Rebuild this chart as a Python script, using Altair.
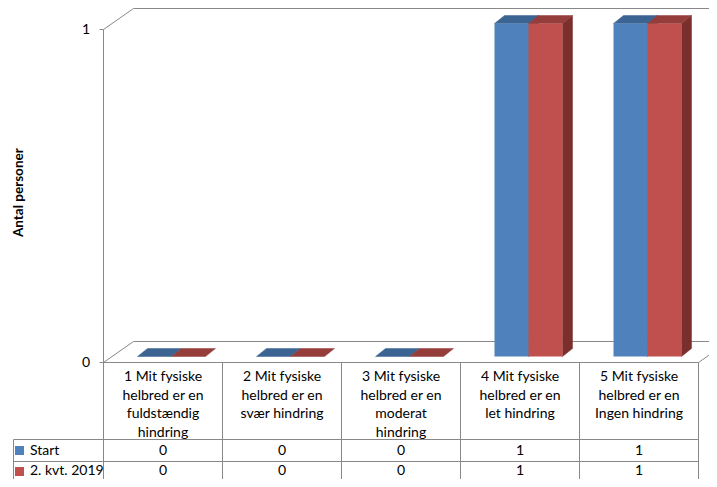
import altair as alt
import pandas as pd

# ---------------- data ----------------
category_lines = [
    ["1 Mit fysiske", "helbred er en", "fuldstændig", "hindring"],
    ["2 Mit fysiske", "helbred er en", "svær hindring"],
    ["3 Mit fysiske", "helbred er en", "moderat", "hindring"],
    ["4 Mit fysiske", "helbred er en", "let hindring"],
    ["5 Mit fysiske", "helbred er en", "Ingen hindring"],
]
series = ["Start", "2. kvt. 2019"]
values_start = [0, 0, 0, 1, 1]
values_kvt = [0, 0, 0, 1, 1]
y_ticks = [0, 1]
y_title = "Antal personer"

front_colors = ["#4F81BD", "#C0504D"]
top_colors = ["#3C6493", "#943D3A"]
side_colors = ["#2F4F75", "#7A2F2D"]
line_color = "#888888"
FONT = "Lato"

# ---------------- layout (reference pixels) ----------------
W, H = 701, 471
XM, YM = 8, 14           # reference pixel shown at the chart's top-left corner
X0, XS = 103.5, 119.0    # x pixel of category boundary 0, pixels per category
Y0, YS = 368.5, 333.0    # y pixel of value 0, pixels per unit


def ux(px):
    return (px - X0) / XS


def vy(py):
    return (Y0 - py) / YS


xs = alt.Scale(domain=[ux(XM), ux(XM + W)], zero=False, nice=False)
ys = alt.Scale(domain=[vy(YM + H), vy(YM)], zero=False, nice=False)

n = len(category_lines)
bar_w = 34 / XS
front_dx, front_dv = 8.5 / XS, 6 / YS
depth_dx, depth_dv = 10 / XS, 8 / YS

fronts, tops, sides = [], [], []
for k in range(n):
    c = k + 0.5
    for s, vals in enumerate([values_start, values_kvt]):
        v = vals[k]
        xl = c - bar_w + s * bar_w + front_dx
        xr = xl + bar_w
        yb = front_dv
        yt = v + front_dv
        bid = f"{k}-{s}"
        fronts.append(dict(x=xl, x2=xr, y=yb, y2=yt, col=front_colors[s]))
        tops.append(dict(bid=bid, y=yt, x=xl, x2=xr, col=top_colors[s]))
        tops.append(dict(bid=bid, y=yt + depth_dv, x=xl + depth_dx, x2=xr + depth_dx, col=top_colors[s]))
        if v > 0:
            sides.append(dict(bid=bid, x=xr, y=yb, y2=yt, col=side_colors[s]))
            sides.append(dict(bid=bid, x=xr + depth_dx, y=yb + depth_dv, y2=yt + depth_dv, col=side_colors[s]))

front_df = pd.DataFrame(fronts)
top_df = pd.DataFrame(tops)
side_df = pd.DataFrame(sides)

# frame lines (3D box), axis ticks and table lines
segs = []
bx, by = 30, 21  # depth of the box
ytop = max(y_ticks)
segs.append((0, ytop, ux(X0 + bx), ytop + by / YS))
segs.append((ux(X0 + bx), ytop + by / YS, ux(740), ytop + by / YS))
segs.append((0, ytop, 0, 0))
segs.append((0, 0, ux(X0 + bx), by / YS))
segs.append((ux(X0 + bx), by / YS, ux(740), by / YS))
segs.append((n, 0, ux(X0 + n * XS + bx), by / YS))
for t in y_ticks:
    segs.append((ux(X0 - 4), t, 0, t))
# table
segs.append((0, 0, n, 0))
for i in range(n + 1):
    segs.append((i, 0, i, vy(500)))
segs.append((ux(13.5), vy(445.5), ux(13.5), vy(500)))
segs.append((ux(13.5), vy(445.5), n, vy(445.5)))
segs.append((ux(13.5), vy(467.5), n, vy(467.5)))
line_df = pd.DataFrame(segs, columns=["x", "y", "x2", "y2"])

# texts
hdr = []
for k, lines in enumerate(category_lines):
    for j, t in enumerate(lines):
        hdr.append(dict(x=k + 0.5, y=vy(383 + 18.5 * j), t=t))
hdr_df = pd.DataFrame(hdr)

row_y = [vy(456.5), vy(476.5)]
vals_rows = []
for s, vals in enumerate([values_start, values_kvt]):
    for k, v in enumerate(vals):
        vals_rows.append(dict(x=k + 0.5, y=row_y[s], t=str(v)))
vals_df = pd.DataFrame(vals_rows)

leg_df = pd.DataFrame(dict(x=[ux(30)] * 2, y=row_y, t=series))
sq_df = pd.DataFrame(dict(
    x=[ux(15)] * 2, x2=[ux(24)] * 2,
    y=[vy(452), vy(473)], y2=[vy(461), vy(482)],
    col=front_colors,
))
tick_df = pd.DataFrame(dict(x=[ux(90)] * len(y_ticks), y=y_ticks, t=[str(t) for t in y_ticks]))
title_df = pd.DataFrame(dict(x=[ux(19)], y=[sum(y_ticks) / 2 + 0.01], t=[y_title]))


def X(f):
    return alt.X(f, type="quantitative", scale=xs, axis=None)


def Y(f):
    return alt.Y(f, type="quantitative", scale=ys, axis=None)


lines_layer = alt.Chart(line_df).mark_rule(color=line_color, strokeWidth=1).encode(
    x=X("x"), y=Y("y"), x2="x2", y2="y2"
)

side_layer = alt.Chart(side_df).mark_area(strokeWidth=0.5).encode(
    x=X("x"), y=Y("y"), y2="y2", detail="bid:N",
    fill=alt.Fill("col:N", scale=None), stroke=alt.Stroke("col:N", scale=None),
)

top_layer = alt.Chart(top_df).mark_area(orient="horizontal", strokeWidth=0.5).encode(
    y=Y("y"), x=X("x"), x2="x2", detail="bid:N",
    fill=alt.Fill("col:N", scale=None), stroke=alt.Stroke("col:N", scale=None),
)

front_layer = alt.Chart(front_df).mark_rect().encode(
    x=X("x"), x2="x2", y=Y("y"), y2="y2",
    fill=alt.Fill("col:N", scale=None),
)

txt = dict(font=FONT, fontSize=14, color="#000000", baseline="middle")
hdr_layer = alt.Chart(hdr_df).mark_text(**txt).encode(x=X("x"), y=Y("y"), text="t:N")
vals_layer = alt.Chart(vals_df).mark_text(**txt).encode(x=X("x"), y=Y("y"), text="t:N")
leg_layer = alt.Chart(leg_df).mark_text(align="left", **txt).encode(x=X("x"), y=Y("y"), text="t:N")
tick_layer = alt.Chart(tick_df).mark_text(align="right", **txt).encode(x=X("x"), y=Y("y"), text="t:N")
title_layer = alt.Chart(title_df).mark_text(
    font=FONT, fontSize=13.5, fontWeight="bold", color="#000000",
    baseline="middle", align="center", angle=270,
).encode(x=X("x"), y=Y("y"), text="t:N")
sq_layer = alt.Chart(sq_df).mark_rect().encode(
    x=X("x"), x2="x2", y=Y("y"), y2="y2", fill=alt.Fill("col:N", scale=None)
)

chart = alt.layer(
    lines_layer, side_layer, top_layer, front_layer,
    hdr_layer, vals_layer, leg_layer, sq_layer, tick_layer, title_layer,
).properties(
    width=W, height=H, padding=0, autosize=alt.AutoSizeParams(type="none"),
    background="#FFFFFF",
).configure_view(strokeWidth=0)

chart.save("out.html", embed_options={"renderer": "svg", "actions": False})
